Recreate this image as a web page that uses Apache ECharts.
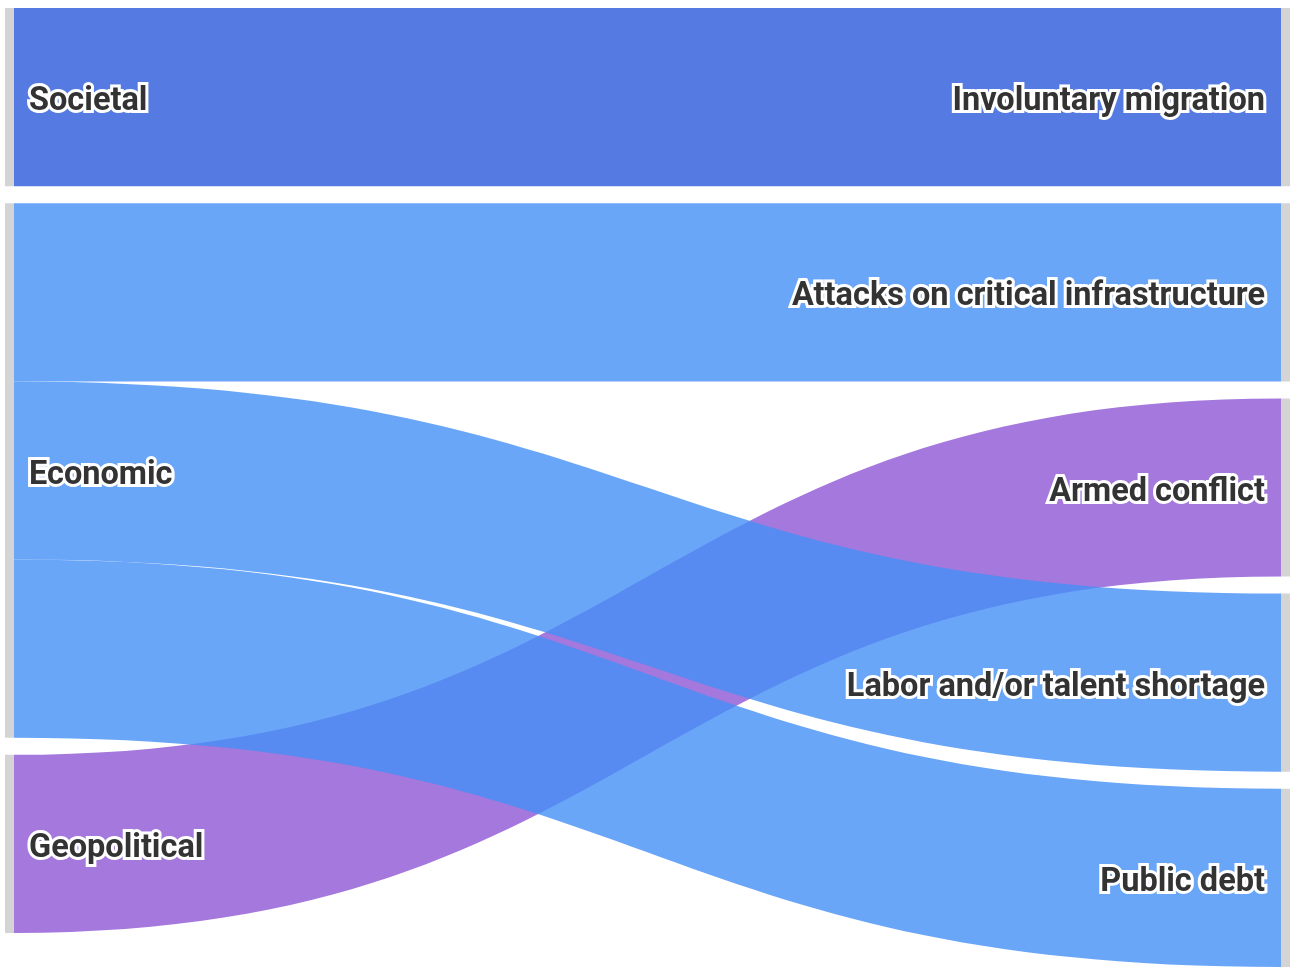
<!DOCTYPE html>
<html>
<head>
<meta charset="utf-8">
<script src="https://cdn.jsdelivr.net/npm/echarts@6/dist/echarts.min.js"></script>
<style>
  html, body { margin: 0; padding: 0; background: #ffffff; }
  #chart { width: 1293px; height: 967px; }
</style>
</head>
<body>
<div id="chart"></div>
<script>
// ---- data ----
const sourceNodes = ['Societal', 'Economic', 'Geopolitical'];
const targetNodes = ['Involuntary migration', 'Attacks on critical infrastructure', 'Armed conflict', 'Labor and/or talent shortage', 'Public debt'];
// links drawn in this order (purple first so blue overlaps it)
const linkSources = ['Geopolitical', 'Societal', 'Economic', 'Economic', 'Economic'];
const linkTargets = ['Armed conflict', 'Involuntary migration', 'Attacks on critical infrastructure', 'Labor and/or talent shortage', 'Public debt'];
const linkValues = [1, 1, 1, 1, 1];
const sourceColors = { 'Societal': 'rgb(42,90,219)', 'Economic': 'rgb(69,144,246)', 'Geopolitical': 'rgb(141,86,211)' };

// ---- chart ----
const labelBase = {
  show: true,
  color: '#333333',
  fontFamily: 'Roboto',
  fontWeight: 'bold',
  fontSize: 32.5,
  textBorderColor: '#ffffff',
  textBorderWidth: 6,
  offset: [0, 5]
};
const nodes = sourceNodes.map(n => ({
  name: n,
  label: Object.assign({}, labelBase, { position: 'right', distance: 15 })
})).concat(targetNodes.map(n => ({
  name: n,
  label: Object.assign({}, labelBase, { position: 'left', distance: 16 })
})));
const links = linkSources.map((s, i) => ({
  source: s,
  target: linkTargets[i],
  value: linkValues[i],
  lineStyle: { color: sourceColors[s], opacity: 0.8 }
}));

const chart = echarts.init(document.getElementById('chart'), null, { renderer: 'canvas' });
chart.setOption({
  animation: false,
  backgroundColor: '#ffffff',
  series: [{
    type: 'sankey',
    left: 5,
    right: 3,
    top: 8,
    bottom: 0,
    nodeWidth: 9,
    nodeGap: 17,
    layoutIterations: 0,
    draggable: false,
    emphasis: { disabled: true },
    itemStyle: { color: '#d4d4d4', borderWidth: 0 },
    lineStyle: { curveness: 0.5 },
    data: nodes,
    links: links
  }]
});
</script>
</body>
</html>
